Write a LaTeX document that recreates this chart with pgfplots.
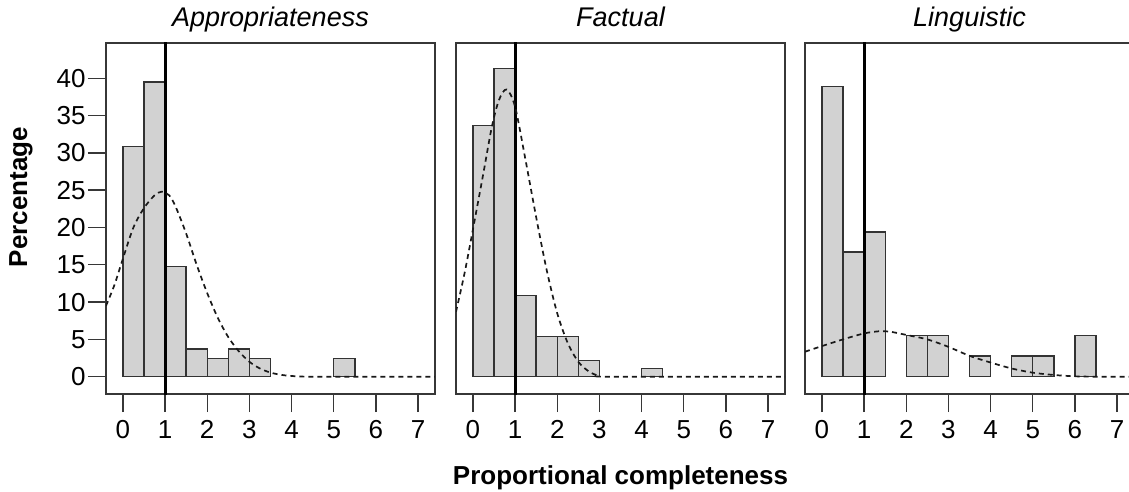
\documentclass[border=0pt]{standalone}
\usepackage{fontspec}
\setmainfont{Liberation Sans}
\usepackage{pgfplots}
\pgfplotsset{compat=1.18}

\definecolor{barfill}{RGB}{210,210,210}
\definecolor{frame}{RGB}{55,55,55}

\pgfplotsset{
 panel/.style={
  scale only axis, width=329pt, height=351pt,
  xmin=-0.4, xmax=7.4, ymin=-2.32, ymax=44.73,
  axis line style={frame, line width=1.4pt},
  xtick={0,...,7}, xtick pos=bottom, ytick pos=left,
  tick align=outside, major tick length=18pt,
  tick style={frame, line width=1.4pt},
  tick label style={font=\fontsize{26}{26}\selectfont},
  xticklabel style={yshift=-5pt},
  yticklabel style={xshift=1pt},
  /pgf/number format/assume math mode=true,
  title style={font=\fontsize{27}{27}\selectfont\itshape, anchor=base, at={(0.5,1)}, yshift=10pt},
  clip=true,
 },
 bars/.style={ybar, bar width=0.5, bar shift=0pt, fill=barfill, draw=black!80, line width=1.3pt},
 curve/.style={smooth, line width=1.7pt, dash pattern=on 5pt off 4pt, black!90},
 refline/.style={line width=3pt, black},
}

\begin{document}
\begin{tikzpicture}
% Panel 1
\begin{axis}[panel, at={(106pt,97pt)}, anchor=south west,
  ytick={0,5,...,40}, title={Appropriateness}]
\addplot[bars] coordinates {(0.25,30.9) (0.75,39.5) (1.25,14.8) (1.75,3.7) (2.25,2.47) (2.75,3.7) (3.25,2.47) (5.25,2.47)};
\addplot[refline] coordinates {(1,-3) (1,46)};
\addplot[curve] coordinates {(-0.4,9.5) (-0.2,12.3) (0,15.8) (0.25,20.0) (0.5,22.6) (0.75,24.3) (0.92,24.8) (1.1,24.3) (1.25,22.8) (1.5,19.2) (1.75,15.0) (2.0,11.2) (2.25,7.9) (2.5,5.3) (2.75,3.4) (3.0,2.0) (3.25,1.1) (3.5,0.55) (3.75,0.25) (4.0,0.1) (4.5,0) (7.4,0)};
\end{axis}
% Panel 2
\begin{axis}[panel, at={(456pt,97pt)}, anchor=south west,
  ytick=\empty, title={Factual}]
\addplot[bars] coordinates {(0.25,33.7) (0.75,41.3) (1.25,10.87) (1.75,5.43) (2.25,5.43) (2.75,2.17) (4.25,1.09)};
\addplot[refline] coordinates {(1,-3) (1,46)};
\addplot[curve] coordinates {(-0.4,8.7) (-0.2,13.8) (0,19.7) (0.25,27.3) (0.45,33.5) (0.62,37.1) (0.8,38.5) (1.0,36.2) (1.25,29.0) (1.5,21.4) (1.75,14.3) (2.0,8.5) (2.25,4.5) (2.5,2.0) (2.75,0.7) (3.0,0.1) (3.3,0) (7.4,0)};
\end{axis}
% Panel 3
\begin{axis}[panel, at={(805pt,97pt)}, anchor=south west,
  ytick=\empty, title={Linguistic}]
\addplot[bars] coordinates {(0.25,38.9) (0.75,16.7) (1.25,19.4) (2.25,5.56) (2.75,5.56) (3.75,2.78) (4.75,2.78) (5.25,2.78) (6.25,5.56)};
\addplot[refline] coordinates {(1,-3) (1,46)};
\addplot[curve] coordinates {(-0.4,3.35) (0,4.1) (0.5,5.0) (1.0,5.8) (1.38,6.1) (1.65,6.0) (2.0,5.6) (2.5,5.0) (3.0,4.0) (3.5,2.8) (4.0,1.9) (4.5,1.1) (5.0,0.54) (5.5,0.23) (6.0,0.05) (6.5,0) (7.4,0)};
\end{axis}
\node[rotate=90, anchor=base, font=\fontsize{26}{26}\selectfont\bfseries] at (27pt,294pt) {Percentage};
\node[anchor=base, font=\fontsize{26}{26}\selectfont\bfseries] at (620.5pt,7pt) {Proportional completeness};
\pgfresetboundingbox
\useasboundingbox (0pt,0pt) rectangle (1129pt,491pt);
\end{tikzpicture}
\end{document}
